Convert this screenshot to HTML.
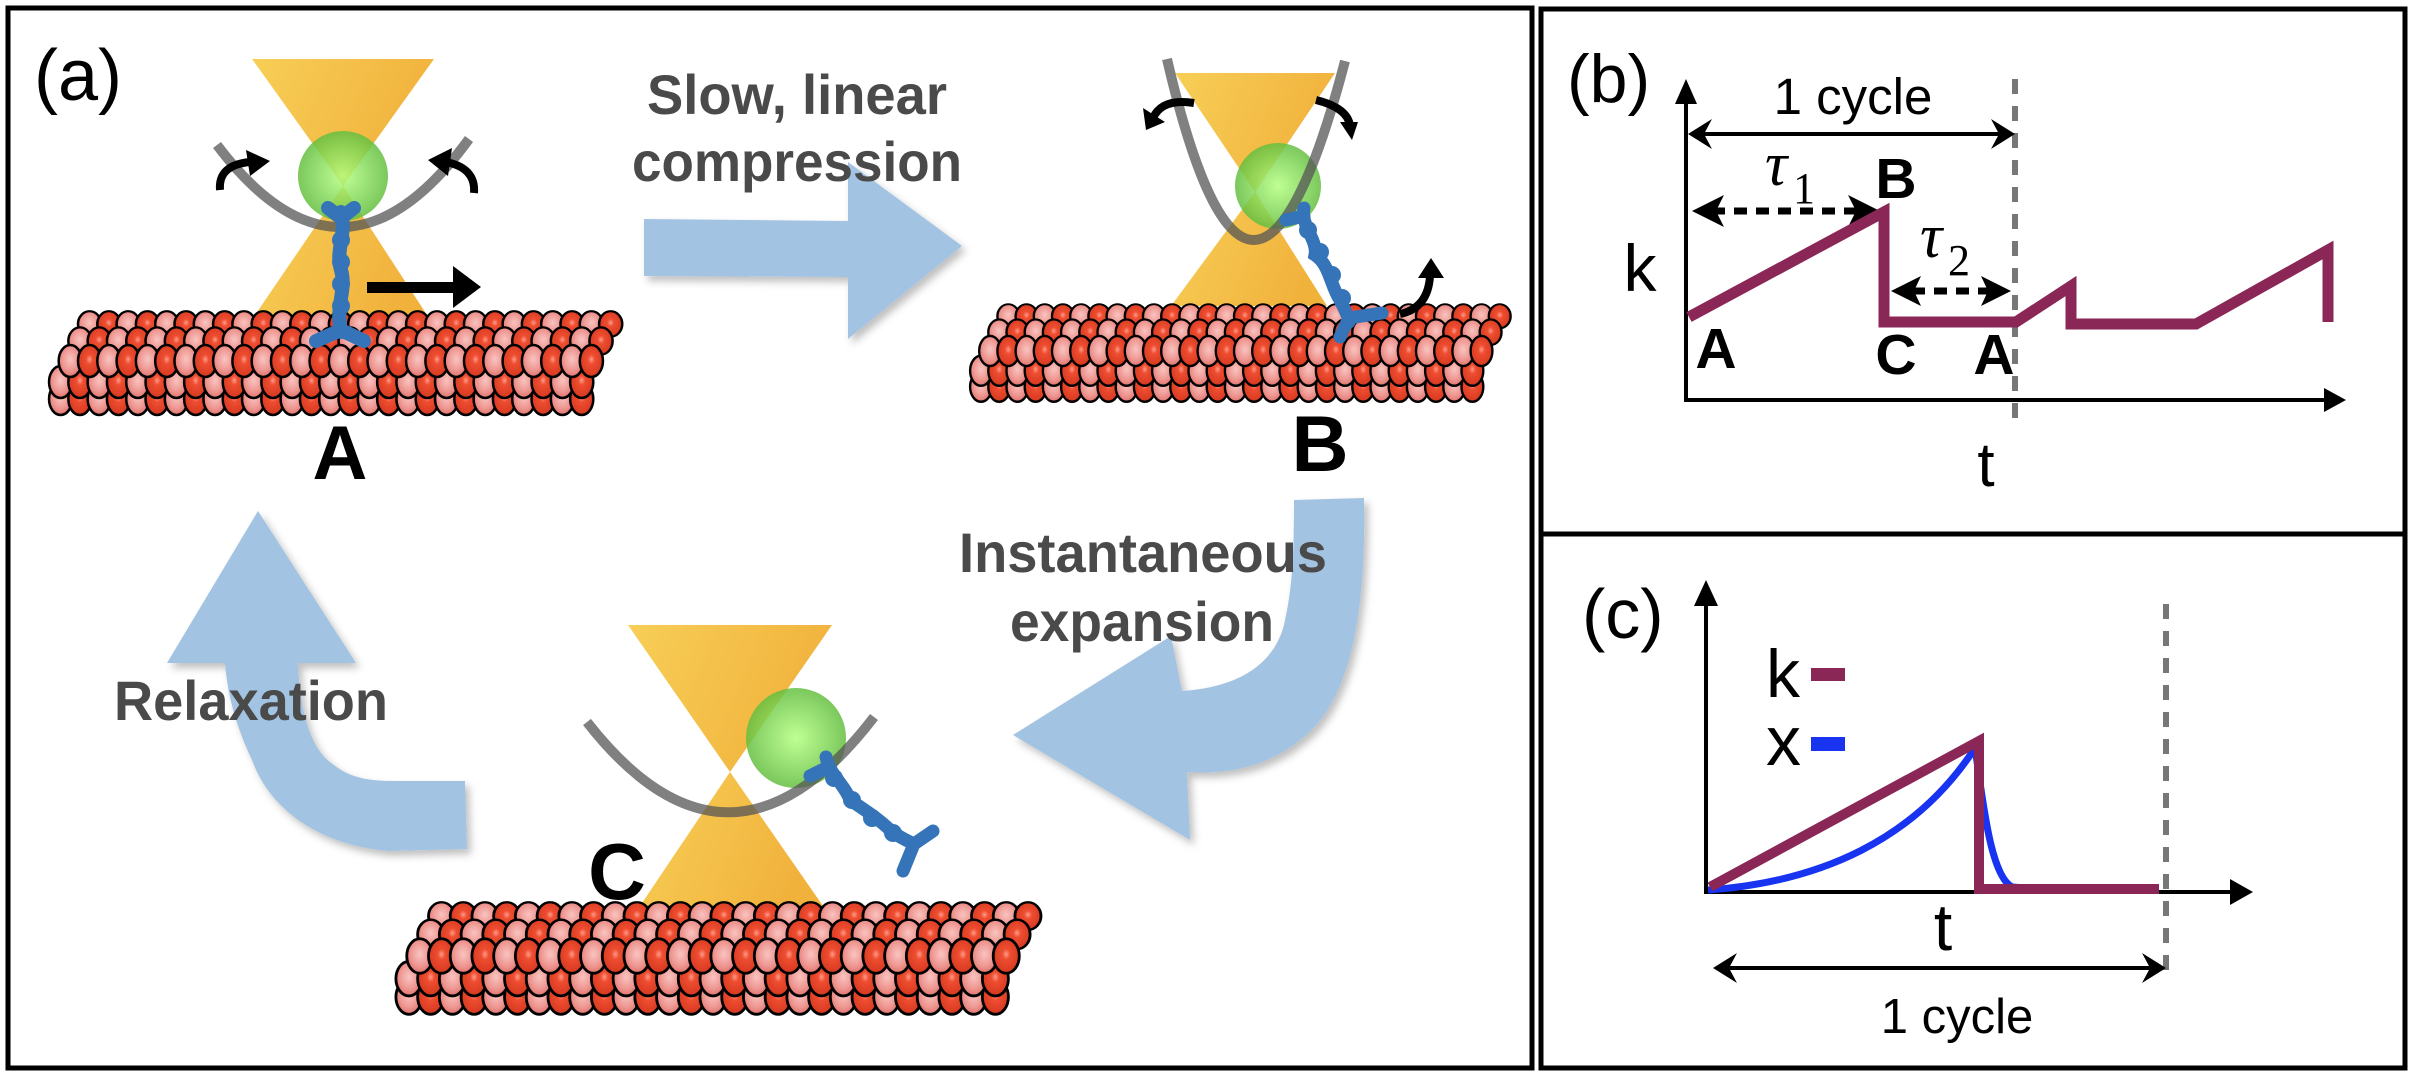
<!DOCTYPE html>
<html><head><meta charset="utf-8">
<style>
html,body{margin:0;padding:0;background:#fff;}
svg{display:block;}
text{font-family:"Liberation Sans",sans-serif;}
</style></head>
<body>
<svg width="2412" height="1076" viewBox="0 0 2412 1076" xmlns="http://www.w3.org/2000/svg">
<defs>
  <radialGradient id="pk" cx="0.5" cy="0.45" r="0.6">
    <stop offset="0" stop-color="#f9c4c0"/><stop offset="0.6" stop-color="#ee9590"/><stop offset="1" stop-color="#dc6a64"/>
  </radialGradient>
  <radialGradient id="rd" cx="0.5" cy="0.45" r="0.6">
    <stop offset="0" stop-color="#ff9a88"/><stop offset="0.25" stop-color="#ee4d30"/><stop offset="1" stop-color="#d3361e"/>
  </radialGradient>
  <radialGradient id="gr" cx="0.5" cy="0.5" r="0.55">
    <stop offset="0" stop-color="#b4ff80"/><stop offset="1" stop-color="#5cb83a"/>
  </radialGradient>
  <linearGradient id="yl" x1="0" y1="0" x2="1" y2="0.3">
    <stop offset="0" stop-color="#f7cc4e"/><stop offset="1" stop-color="#f0ae32"/>
  </linearGradient>
  <filter id="sh" x="-20%" y="-20%" width="140%" height="140%">
    <feDropShadow dx="4" dy="5" stdDeviation="4" flood-color="#000" flood-opacity="0.25"/>
  </filter>
  <g id="row" stroke="#000" stroke-width="2.6">
    <ellipse cx="11" cy="0" rx="12" ry="16" fill="url(#pk)"/><ellipse cx="31" cy="0" rx="12" ry="16" fill="url(#rd)"/>
    <ellipse cx="51" cy="0" rx="12" ry="16" fill="url(#pk)"/><ellipse cx="71" cy="0" rx="12" ry="16" fill="url(#rd)"/>
    <ellipse cx="91" cy="0" rx="12" ry="16" fill="url(#pk)"/><ellipse cx="111" cy="0" rx="12" ry="16" fill="url(#rd)"/>
    <ellipse cx="131" cy="0" rx="12" ry="16" fill="url(#pk)"/><ellipse cx="151" cy="0" rx="12" ry="16" fill="url(#rd)"/>
    <ellipse cx="171" cy="0" rx="12" ry="16" fill="url(#pk)"/><ellipse cx="191" cy="0" rx="12" ry="16" fill="url(#rd)"/>
    <ellipse cx="211" cy="0" rx="12" ry="16" fill="url(#pk)"/><ellipse cx="231" cy="0" rx="12" ry="16" fill="url(#rd)"/>
    <ellipse cx="251" cy="0" rx="12" ry="16" fill="url(#pk)"/><ellipse cx="271" cy="0" rx="12" ry="16" fill="url(#rd)"/>
    <ellipse cx="291" cy="0" rx="12" ry="16" fill="url(#pk)"/><ellipse cx="311" cy="0" rx="12" ry="16" fill="url(#rd)"/>
    <ellipse cx="331" cy="0" rx="12" ry="16" fill="url(#pk)"/><ellipse cx="351" cy="0" rx="12" ry="16" fill="url(#rd)"/>
    <ellipse cx="371" cy="0" rx="12" ry="16" fill="url(#pk)"/><ellipse cx="391" cy="0" rx="12" ry="16" fill="url(#rd)"/>
    <ellipse cx="411" cy="0" rx="12" ry="16" fill="url(#pk)"/><ellipse cx="431" cy="0" rx="12" ry="16" fill="url(#rd)"/>
    <ellipse cx="451" cy="0" rx="12" ry="16" fill="url(#pk)"/><ellipse cx="471" cy="0" rx="12" ry="16" fill="url(#rd)"/>
    <ellipse cx="491" cy="0" rx="12" ry="16" fill="url(#pk)"/><ellipse cx="511" cy="0" rx="12" ry="16" fill="url(#rd)"/>
    <ellipse cx="531" cy="0" rx="12" ry="16" fill="url(#pk)"/><ellipse cx="551" cy="0" rx="12" ry="16" fill="url(#rd)"/>
  </g>
  <g id="mt">
    <use href="#row" transform="translate(30,13) scale(1,0.8)"/>
    <use href="#row" transform="translate(20,30) scale(1,0.85)"/>
    <use href="#row" transform="translate(0,88)"/>
    <use href="#row" transform="translate(0,71)"/>
    <use href="#row" transform="translate(10,50)"/>
  </g>
</defs>

<rect x="8" y="8" width="1524" height="1060" fill="none" stroke="#000" stroke-width="5"/>
<rect x="1541" y="9" width="864" height="1059" fill="none" stroke="#000" stroke-width="5"/>
<line x1="1541" y1="534" x2="2405" y2="534" stroke="#000" stroke-width="5"/>

<text x="34" y="100" font-size="72">(a)</text>

<g fill="#a3c3e2" filter="url(#sh)">
  <path d="M644,219 L848,221 L848,162 L962,246 L848,339 L848,277 L644,276 Z"/>
  <path d="M1294,500 L1364,498 C1366,600 1355,700 1300,740 C1270,765 1230,775 1187,772 L1190,840 L1013,735 L1171,636 L1182,691 C1230,688 1272,670 1284,625 C1292,590 1294,560 1294,500 Z"/>
  <path d="M465,781 L467,849 L388,851 C320,845 270,810 252,760 C238,730 228,700 225,663 L167,663 L258,511 L356,663 L298,663 C300,710 310,750 334,765 C350,778 370,781 393,781 Z"/>
</g>

<!-- Scene A -->
<path d="M252,59 L434,59 L343,186 Z" fill="url(#yl)" opacity="0.95"/>
<path d="M343,186 L255,315 L427,315 Z" fill="url(#yl)" opacity="0.95"/>
<use href="#mt" transform="translate(50,311) scale(0.965,1)"/>
<circle cx="343" cy="176" r="45" fill="url(#gr)" opacity="0.85"/>
<path d="M217,145 Q343,312 469,139" fill="none" stroke="#555" stroke-opacity="0.75" stroke-width="10"/>
<g stroke="#3574b8" stroke-width="14" stroke-linecap="round" fill="none">
  <path d="M341,212 C347,235 335,250 341,270 C347,290 335,305 341,332"/>
  <path d="M328,208 L341,218 L354,208"/>
  <path d="M316,341 L341,330 L364,341"/>
</g>
<g fill="#3574b8"><circle cx="341" cy="240" r="9"/><circle cx="341" cy="262" r="9"/><circle cx="341" cy="284" r="9"/><circle cx="341" cy="306" r="9"/></g>
<rect x="367" y="282" width="86" height="11" fill="#000"/>
<path d="M453,266 L481,287 L453,308 Z" fill="#000"/>
<g fill="none" stroke="#000" stroke-width="8">
  <path d="M220,190 Q218,165 250,162"/>
  <path d="M474,193 Q476,168 446,162"/>
</g>
<path d="M246,150 L270,161 L250,176 Z" fill="#000"/>
<path d="M452,148 L428,160 L448,176 Z" fill="#000"/>
<text x="340" y="479" font-size="76" font-weight="bold" text-anchor="middle">A</text>

<!-- Scene B -->
<path d="M1175,73 L1335,73 L1255,192 Z" fill="url(#yl)" opacity="0.95"/>
<path d="M1255,192 L1171,306 L1327,306 Z" fill="url(#yl)" opacity="0.95"/>
<use href="#mt" transform="translate(971,304) scale(0.91,0.94)"/>
<circle cx="1278" cy="186" r="43" fill="url(#gr)" opacity="0.85"/>
<path d="M1167,59 Q1251,420 1345,61" fill="none" stroke="#555" stroke-opacity="0.75" stroke-width="10"/>
<g stroke="#3574b8" stroke-width="13" stroke-linecap="round" fill="none">
  <path d="M1304,208 C1300,225 1318,240 1315,255 C1330,265 1330,285 1340,300 C1345,310 1349,318 1349,322"/>
  <path d="M1286,220 L1304,216"/>
  <path d="M1340,337 L1349,318 L1382,313"/>
</g>
<g fill="#3574b8"><circle cx="1308" cy="230" r="9"/><circle cx="1320" cy="252" r="9"/><circle cx="1332" cy="275" r="9"/><circle cx="1342" cy="298" r="9"/></g>
<g fill="none" stroke="#000" stroke-width="8">
  <path d="M1194,103 Q1162,98 1153,118"/>
  <path d="M1316,100 Q1348,108 1350,126"/>
  <path d="M1400,314 Q1428,308 1430,276"/>
</g>
<path d="M1143,108 L1146,130 L1165,122 Z" fill="#000"/>
<path d="M1340,122 L1358,122 L1352,140 Z" fill="#000"/>
<path d="M1418,278 L1431,258 L1444,278 Z" fill="#000"/>
<text x="1320" y="471" font-size="79" font-weight="bold" text-anchor="middle">B</text>

<!-- Scene C -->
<path d="M628,625 L832,625 L730,772 Z" fill="url(#yl)" opacity="0.95"/>
<path d="M730,772 L640,906 L823,906 Z" fill="url(#yl)" opacity="0.95"/>
<use href="#mt" transform="translate(397,902) scale(1.086,1.08)"/>
<circle cx="796" cy="738" r="50" fill="url(#gr)" opacity="0.85"/>
<path d="M587,722 Q730,905 874,717" fill="none" stroke="#555" stroke-opacity="0.75" stroke-width="10"/>
<g stroke="#3574b8" stroke-width="13" stroke-linecap="round" fill="none">
  <path d="M826,757 C830,775 845,785 850,800 C865,810 880,820 890,830 C900,838 910,842 914,844"/>
  <path d="M810,776 L826,768"/>
  <path d="M903,871 L914,844 L933,831"/>
</g>
<g fill="#3574b8"><circle cx="834" cy="778" r="9"/><circle cx="852" cy="800" r="9"/><circle cx="872" cy="818" r="9"/><circle cx="893" cy="833" r="9"/></g>
<text x="617" y="899" font-size="80" font-weight="bold" text-anchor="middle">C</text>

<g fill="#4a4a4a" font-weight="bold" font-size="56">
  <text x="647" y="114" textLength="300" lengthAdjust="spacingAndGlyphs">Slow, linear</text>
  <text x="632" y="181" textLength="330" lengthAdjust="spacingAndGlyphs">compression</text>
  <text x="959" y="572" textLength="368" lengthAdjust="spacingAndGlyphs">Instantaneous</text>
  <text x="1010" y="641" textLength="264" lengthAdjust="spacingAndGlyphs">expansion</text>
  <text x="114" y="720" textLength="274" lengthAdjust="spacingAndGlyphs">Relaxation</text>
</g>

<!-- Panel (b) -->
<text x="1567" y="102" font-size="68">(b)</text>
<line x1="2015" y1="79" x2="2015" y2="422" stroke="#777" stroke-width="6" stroke-dasharray="15 12"/>
<g stroke="#000" stroke-width="4">
  <line x1="1686" y1="95" x2="1686" y2="402"/>
  <line x1="1684" y1="400" x2="2330" y2="400"/>
  <line x1="1692" y1="134" x2="2010" y2="134"/>
</g>
<path d="M1686,79 L1675,104 L1697,104 Z" fill="#000"/>
<path d="M2346,400 L2324,388 L2324,412 Z" fill="#000"/>
<path d="M1688,134 L1712,119 L1704,134 L1712,149 Z" fill="#000"/>
<path d="M2015,134 L1991,119 L1999,134 L1991,149 Z" fill="#000"/>
<text x="1853" y="114" font-size="51" text-anchor="middle">1 cycle</text>
<g stroke="#000" stroke-width="7" stroke-dasharray="13 9">
  <line x1="1712" y1="211" x2="1860" y2="211"/>
  <line x1="1912" y1="291" x2="1992" y2="291"/>
</g>
<path d="M1692,211 L1724,195 L1716,211 L1724,227 Z" fill="#000"/>
<path d="M1880,211 L1848,195 L1856,211 L1848,227 Z" fill="#000"/>
<path d="M1891,291 L1921,276 L1914,291 L1921,306 Z" fill="#000"/>
<path d="M2011,291 L1981,276 L1988,291 L1981,306 Z" fill="#000"/>
<text x="1765" y="185" font-size="62" font-style="italic" style="font-family:'Liberation Serif',serif">τ</text>
<text x="1793" y="203" font-size="44" style="font-family:'Liberation Serif',serif">1</text>
<text x="1920" y="257" font-size="62" font-style="italic" style="font-family:'Liberation Serif',serif">τ</text>
<text x="1948" y="275" font-size="44" style="font-family:'Liberation Serif',serif">2</text>
<polyline points="1689,317 1884,212 1884,322 2016,322 2071,286 2071,324 2196,324 2328,250 2328,322" fill="none" stroke="#8b2757" stroke-width="11" stroke-linejoin="miter"/>
<text x="1640" y="291" font-size="66" text-anchor="middle">k</text>
<g font-weight="bold" font-size="57" text-anchor="middle">
  <text x="1716" y="368">A</text>
  <text x="1896" y="198">B</text>
  <text x="1896" y="374">C</text>
  <text x="1994" y="374">A</text>
</g>
<text x="1986" y="486" font-size="62" text-anchor="middle">t</text>

<!-- Panel (c) -->
<text x="1582" y="638" font-size="70">(c)</text>
<line x1="2166" y1="604" x2="2166" y2="981" stroke="#777" stroke-width="6" stroke-dasharray="15 12"/>
<g stroke="#000" stroke-width="4">
  <line x1="1706" y1="598" x2="1706" y2="894"/>
  <line x1="1704" y1="892" x2="2235" y2="892"/>
  <line x1="1717" y1="968" x2="2160" y2="968"/>
</g>
<path d="M1706,580 L1694,606 L1718,606 Z" fill="#000"/>
<path d="M2253,892 L2230,879 L2230,905 Z" fill="#000"/>
<path d="M1713,968 L1737,953 L1729,968 L1737,983 Z" fill="#000"/>
<path d="M2166,968 L2142,953 L2150,968 L2142,983 Z" fill="#000"/>
<path d="M1708,890 C1820,882 1915,840 1975,748 C1983,800 1990,875 2012,887 L2040,889" fill="none" stroke="#1834f0" stroke-width="7"/>
<polyline points="1710,887 1979,741 1979,889 2159,889" fill="none" stroke="#8b2757" stroke-width="10"/>
<text x="1766" y="697" font-size="68">k</text>
<rect x="1811" y="668" width="34" height="13" fill="#8b2757"/>
<text x="1766" y="765" font-size="70">x</text>
<rect x="1811" y="737" width="34" height="14" fill="#1834f0"/>
<text x="1943" y="950" font-size="66" text-anchor="middle">t</text>
<text x="1957" y="1033" font-size="49" text-anchor="middle">1 cycle</text>
</svg>
</body></html>
